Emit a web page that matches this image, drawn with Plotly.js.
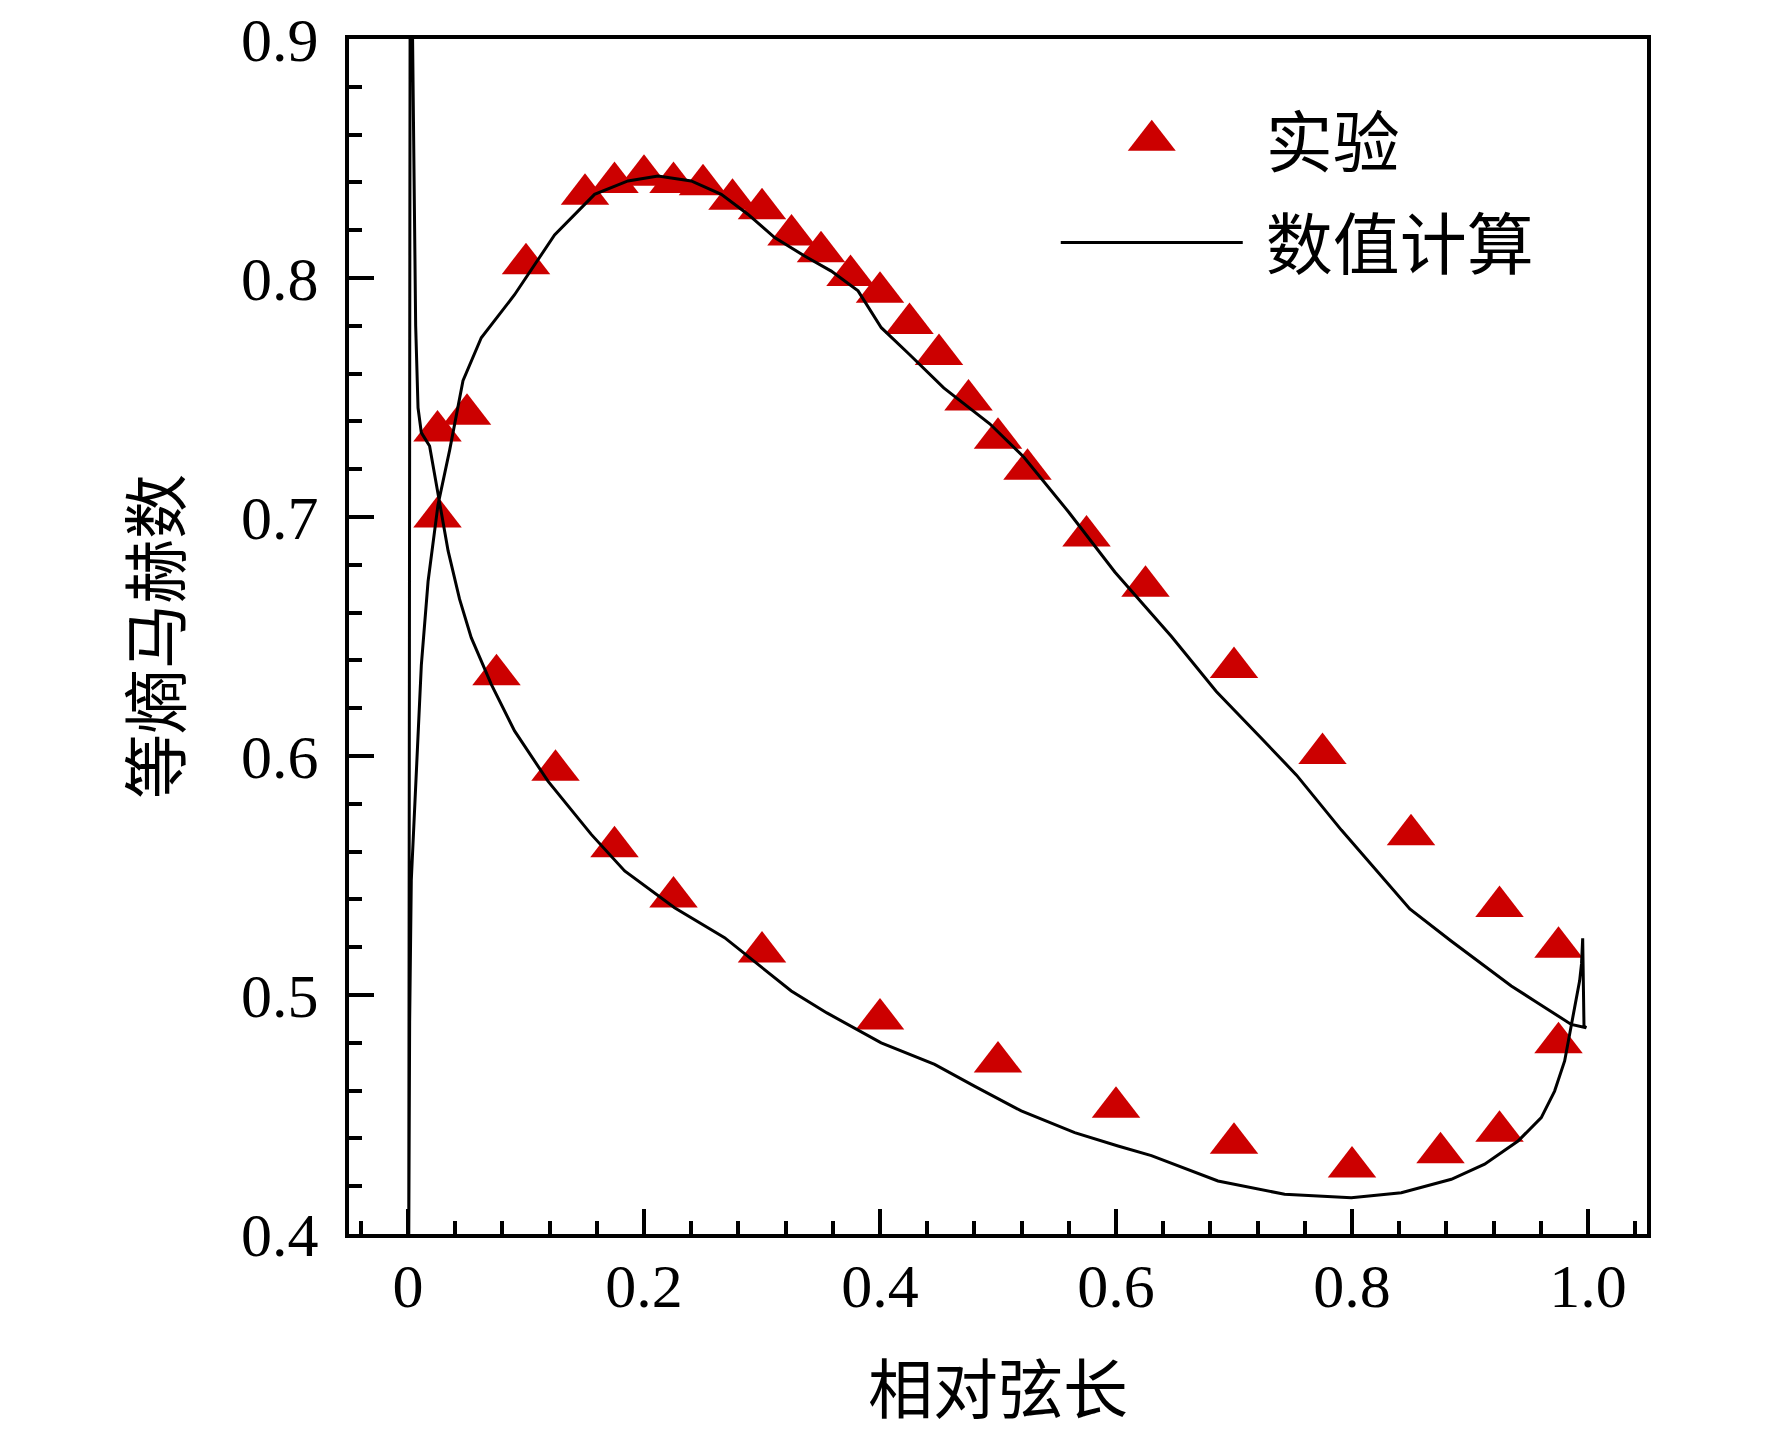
<!DOCTYPE html>
<html>
<head>
<meta charset="utf-8">
<script src="https://cdn.plot.ly/plotly-3.0.1.min.js"></script>
<style>html,body{margin:0;padding:0;background:#fff;}#chart{width:1772px;height:1432px;}</style>
</head>
<body>
<div id="chart"></div>
<script>
// Experimental data (suction side then pressure side)
const suctionX = [0.025,0.05,0.1,0.15,0.175,0.2,0.225,0.25,0.275,0.3,0.325,0.35,0.375,0.4,0.425,0.45,0.475,0.5,0.525,0.575,0.625,0.7,0.775,0.85,0.925,0.975];
const suctionY = [0.736,0.743,0.806,0.835,0.840,0.843,0.840,0.839,0.833,0.829,0.818,0.811,0.801,0.794,0.781,0.768,0.749,0.733,0.720,0.692,0.671,0.637,0.601,0.567,0.537,0.520];
const pressureX = [0.025,0.075,0.125,0.175,0.225,0.3,0.4,0.5,0.6,0.7,0.8,0.875,0.925,0.975];
const pressureY = [0.700,0.634,0.594,0.562,0.541,0.518,0.490,0.472,0.453,0.438,0.428,0.434,0.443,0.480];

// Numerical result: closed loop, suction side from leading edge to trailing edge, then pressure side back
const numX = [0.0005,0.0014,0.0028,0.007,0.0113,0.017,0.0254,0.0353,0.0466,0.0621,0.0903,0.1242,0.1581,0.1864,0.2119,0.240,0.2655,0.288,0.3107,0.3361,0.3587,0.3814,0.4011,0.425,0.454,0.493,0.522,0.560,0.599,0.647,0.685,0.724,0.753,0.791,0.849,0.884,0.935,0.9548,0.9858,0.9985,0.9966,0.9955,0.9945,0.9929,0.9887,0.9844,0.9802,0.9717,0.9604,0.9407,0.9124,0.8842,0.8418,0.7994,0.7429,0.6864,0.630,0.6017,0.565,0.5197,0.480,0.4463,0.401,0.3814,0.355,0.3248,0.2683,0.2259,0.1836,0.1553,0.1186,0.0903,0.0706,0.0536,0.0437,0.034,0.0268,0.0183,0.0113,0.0085,0.0065,0.005,0.0042,0.0035,0.0028,0.0018,0.0012,0.0006];
const numY = [0.380,0.489,0.548,0.590,0.638,0.673,0.705,0.728,0.757,0.775,0.793,0.818,0.835,0.8406,0.8427,0.8406,0.835,0.8267,0.8169,0.8092,0.8029,0.7946,0.7792,0.768,0.754,0.739,0.725,0.702,0.677,0.650,0.627,0.607,0.592,0.569,0.536,0.5226,0.5038,0.4975,0.4877,0.4863,0.4870,0.5237,0.513,0.5059,0.4955,0.4835,0.4724,0.4598,0.4487,0.4389,0.4292,0.4229,0.4173,0.4152,0.4166,0.4222,0.4328,0.4368,0.4424,0.4515,0.4619,0.471,0.480,0.4852,0.4925,0.5017,0.524,0.5365,0.5519,0.5672,0.5895,0.6105,0.630,0.6495,0.6656,0.6858,0.7053,0.7297,0.7353,0.7457,0.780,0.850,0.920,0.950,0.950,0.920,0.700,0.380];

const xTickVals = [0,0.2,0.4,0.6,0.8,1.0];
const xTickText = ['0','0.2','0.4','0.6','0.8','1.0'];
const yTickVals = [0.4,0.5,0.6,0.7,0.8,0.9];
const yTickText = ['0.4','0.5','0.6','0.7','0.8','0.9'];

const seriesNames = ['实验','数值计算'];
const xTitle = '相对弦长';
const yTitle = '等熵马赫数';

const serif = 'Liberation Serif, Times New Roman, serif';
const cjk = 'Noto Sans CJK SC, sans-serif';

const traces = [
  {
    x: suctionX.concat(pressureX),
    y: suctionY.concat(pressureY),
    type: 'scatter', mode: 'markers', name: seriesNames[0],
    legendgroup: 'a',
    marker: {symbol: 'triangle-up', size: 42, color: '#cc0000', line: {width: 0}},
    cliponaxis: false
  },
  {
    x: numX, y: numY,
    type: 'scatter', mode: 'lines', name: seriesNames[1],
    legendgroup: 'b',
    line: {color: '#000000', width: 3}
  }
];

const axisCommon = {
  showline: true, mirror: true, linecolor: '#000', linewidth: 4,
  showgrid: false, zeroline: false,
  ticks: 'inside', tickcolor: '#000', tickwidth: 4, ticklen: 25,
  tickfont: {family: serif, size: 62, color: '#000'}
};

const layout = {
  width: 1772, height: 1432,
  margin: {l: 349, r: 125, t: 39, b: 198, pad: 0},
  paper_bgcolor: '#fff', plot_bgcolor: '#fff',
  showlegend: true,
  legend: {
    x: 0.5445, y: 0.957, xanchor: 'left', yanchor: 'top',
    bgcolor: 'rgba(0,0,0,0)', borderwidth: 0,
    font: {family: cjk, size: 67, color: '#000'},
    itemwidth: 182, tracegroupgap: 12, traceorder: 'grouped'
  },
  xaxis: Object.assign({}, axisCommon, {
    range: [-0.05, 1.05],
    tickmode: 'array', tickvals: xTickVals, ticktext: xTickText,
    ticklabelstandoff: -5,
    minor: {tickmode: 'linear', tick0: 0, dtick: 0.04, ticks: 'inside', ticklen: 13, tickwidth: 4, tickcolor: '#000', showgrid: false},
    title: {text: xTitle, font: {family: cjk, size: 65, color: '#000'}, standoff: 59}
  }),
  yaxis: Object.assign({}, axisCommon, {
    range: [0.4, 0.9],
    tickmode: 'array', tickvals: yTickVals, ticktext: yTickText,
    ticklabelstandoff: 14,
    minor: {tickmode: 'linear', tick0: 0.4, dtick: 0.02, ticks: 'inside', ticklen: 13, tickwidth: 4, tickcolor: '#000', showgrid: false},
    title: {text: yTitle, font: {family: cjk, size: 65, color: '#000'}, standoff: 40}
  })
};

Plotly.newPlot('chart', traces, layout, {displayModeBar: false, staticPlot: true}).then(function (gd) {
  // enlarge the legend triangle to match the plotted markers, and open a gap before the legend text
  gd.querySelectorAll('.legend [clip-path]').forEach(function (e) { e.removeAttribute('clip-path'); });
  gd.querySelectorAll('.legend .legendpoints path.scatterpts').forEach(function (p) {
    var t = p.getAttribute('transform') || '';
    p.setAttribute('transform', t + ' scale(2.6)');
  });
  gd.querySelectorAll('.legend text.legendtext').forEach(function (t) {
    var x = parseFloat(t.getAttribute('x')) || 0;
    t.setAttribute('x', x + 18);
  });
});
</script>
</body>
</html>
